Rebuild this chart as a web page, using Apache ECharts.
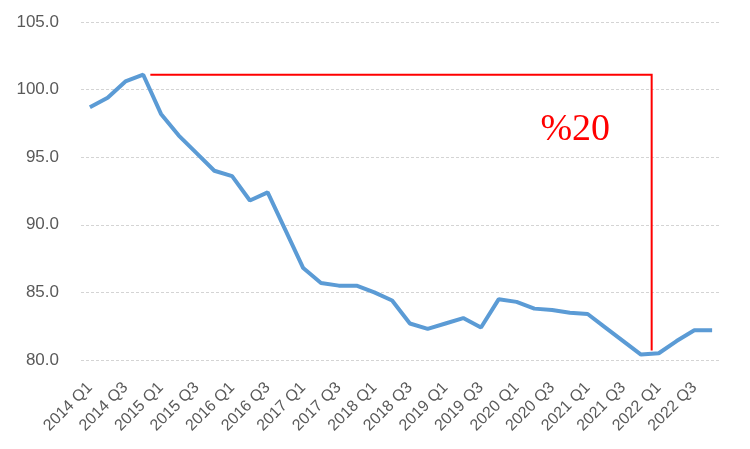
<!DOCTYPE html>
<html><head><meta charset="utf-8">
<script src="https://cdn.jsdelivr.net/npm/echarts@6/dist/echarts.min.js"></script>
<style>html,body{margin:0;padding:0;background:#fff}#c{width:750px;height:449px}</style>
</head><body><div id="c"></div>
<script>
const categories = [];
const years = [2014,2015,2016,2017,2018,2019,2020,2021,2022];
years.forEach(y => { for (let q = 1; q <= 4; q++) categories.push(y + ' Q' + q); });
const values = [98.7,99.4,100.6,101.1, 98.2,96.6,95.3,94.0, 93.6,91.8,92.4,89.6,
  86.8,85.7,85.5,85.5, 85.0,84.4,82.7,82.3, 82.7,83.1,82.4,84.5,
  84.3,83.8,83.7,83.5, 83.4,82.4,81.4,80.4, 80.5,81.4,82.2,82.2];
const yTicks = [80,85,90,95,100,105];
const annotation = { text: '%20', top: 101.1, bottom: 80.7, startIdx: 3.4, endIdx: 31.6 };

const chart = echarts.init(document.getElementById('c'));
chart.setOption({
  animation: false,
  grid: { left: 81, right: 29, top: 22, bottom: 89 },
  xAxis: {
    type: 'category', data: categories, boundaryGap: true,
    axisLine: { show: false }, axisTick: { show: false },
    axisLabel: { interval: 1, rotate: 45, color: '#595959', fontSize: 16, fontFamily: 'Liberation Sans', margin: 25 }
  },
  yAxis: {
    type: 'value', min: yTicks[0], max: yTicks[yTicks.length-1], interval: 5,
    axisLine: { show: false }, axisTick: { show: false },
    axisLabel: { color: '#595959', fontSize: 17, fontFamily: 'Liberation Sans', margin: 22, formatter: v => v.toFixed(1) },
    splitLine: { lineStyle: { color: '#d4d4d4', type: [3,2], width: 1 } }
  },
  series: [{
    type: 'line', data: values, showSymbol: false, symbol: 'none',
    lineStyle: { color: '#5b9bd5', width: 4 }
  }]
});

function px(idx, val) {
  const i0 = Math.floor(idx), f = idx - i0;
  const a = chart.convertToPixel({ gridIndex: 0 }, [i0, val]);
  const b = chart.convertToPixel({ gridIndex: 0 }, [i0 + 1, val]);
  return [a[0] + (b[0]-a[0]) * f, a[1]];
}
const pA = px(annotation.startIdx, annotation.top);
const pB = px(annotation.endIdx, annotation.top);
const pC = px(annotation.endIdx, annotation.bottom);
const tp = px(27.3, 97.0);
chart.setOption({
  graphic: [
    { type: 'polyline', shape: { points: [pA, pB, pC] }, style: { stroke: '#ff0000', lineWidth: 2, fill: null } },
    { type: 'text', x: tp[0], y: tp[1], style: { text: annotation.text, fill: '#ff0000', font: '38px "Liberation Serif"', textAlign: 'center', textVerticalAlign: 'middle' } }
  ]
});
</script></body></html>
